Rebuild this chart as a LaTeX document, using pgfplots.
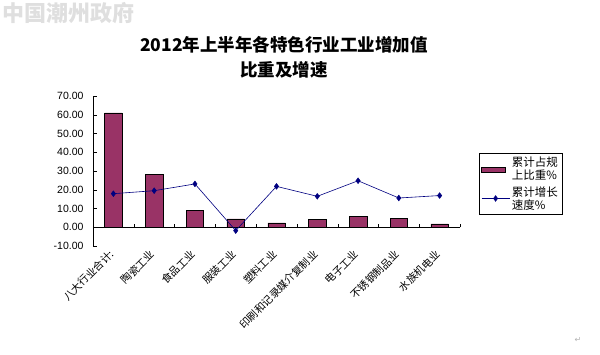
\documentclass[border=0pt]{standalone}
\usepackage{pgfplots}
\pgfplotsset{compat=1.18}
\usepackage{fontspec}
\setmainfont{Liberation Sans}
\newfontfamily\cjk{Noto Sans CJK SC}
\newfontfamily\sym{DejaVu Sans}
\definecolor{barc}{HTML}{993366}
\definecolor{linec}{HTML}{000080}
\begin{document}
\begin{tikzpicture}[x=1pt,y=1pt]
\useasboundingbox (0,0) rectangle (600,354);
% watermark
\node[anchor=west, text=gray!25, font=\cjk\bfseries\fontsize{22}{24}\selectfont, inner sep=0pt] at (2,341) {中国潮州政府};
% title
\node[align=center, font=\cjk\bfseries\fontsize{17.5}{25}\selectfont] at (284,297) {2012年上半年各特色行业工业增加值\\比重及增速};
\begin{axis}[
  at={(93pt,108pt)}, anchor=south west,
  scale only axis, width=367pt, height=150pt,
  xmin=-0.5, xmax=8.5, ymin=-10, ymax=70,
  axis y line=left, axis x line=middle,
  axis line style={-, black},
  ytick={-10,0,...,70},
  yticklabel style={/pgf/number format/fixed, /pgf/number format/fixed zerofill, /pgf/number format/precision=2, font=\fontsize{10.5}{12}\selectfont, xshift=-6pt},
  /pgf/number format/assume math mode=true,
  hide obscured y ticks=false,
  xtick={0,...,8},
  xticklabels={八大行业合计:,陶瓷工业,食品工业,服装工业,塑料工业,印刷和记录媒介复制业,电子工业,不锈钢制品业,水族机电业},
  xticklabel style={yshift=-20pt, xshift=-5pt, rotate=45, anchor=north east, font=\cjk\fontsize{10.5}{12}\selectfont, inner sep=1pt},
  major x tick style={draw=none},
  minor xtick={-0.5,0.5,...,8.5},
  minor x tick style={black},
  tick align=inside,
  major tick length=4pt, minor tick length=3.5pt,
  ytick style={black},
  clip=false,
  legend style={at={(1.052,0.62)}, anchor=north west, draw=black, font=\cjk\fontsize{11.5}{13}\selectfont, cells={align=left, anchor=west}, inner sep=2pt, row sep=1pt},
]
\addplot[ybar, bar width=17.5pt, fill=barc, draw=black, line width=0.4pt,
  legend image code/.code={\draw[fill=barc, draw=black, line width=0.3pt] (0pt,-2.5pt) rectangle (24pt,2.5pt);}]
  coordinates {(0,61.0) (1,28.4) (2,9.2) (3,4.5) (4,2.3) (5,4.1) (6,5.7) (7,4.6) (8,1.8)};
\addlegendentry{累计占规\\上比重\%}
\addplot[color=linec, line width=0.6pt, mark=diamond*, mark size=2.8pt, mark options={fill=linec},
  legend image code/.code={\draw[linec, line width=0.6pt] (0pt,0pt) -- (28pt,0pt); \fill[linec] (14pt,0pt) +(0,2.8pt) -- +(2pt,0) -- +(0,-2.8pt) -- +(-2pt,0) -- cycle;}]
  coordinates {(0,17.9) (1,19.5) (2,23.1) (3,-1.8) (4,21.8) (5,16.5) (6,24.8) (7,15.6) (8,16.9)};
\addlegendentry{累计增长\\速度\%}
\end{axis}
\node[text=gray!60, font=\sym\fontsize{8}{9}\selectfont] at (578,14) {↵};
\end{tikzpicture}
\end{document}
